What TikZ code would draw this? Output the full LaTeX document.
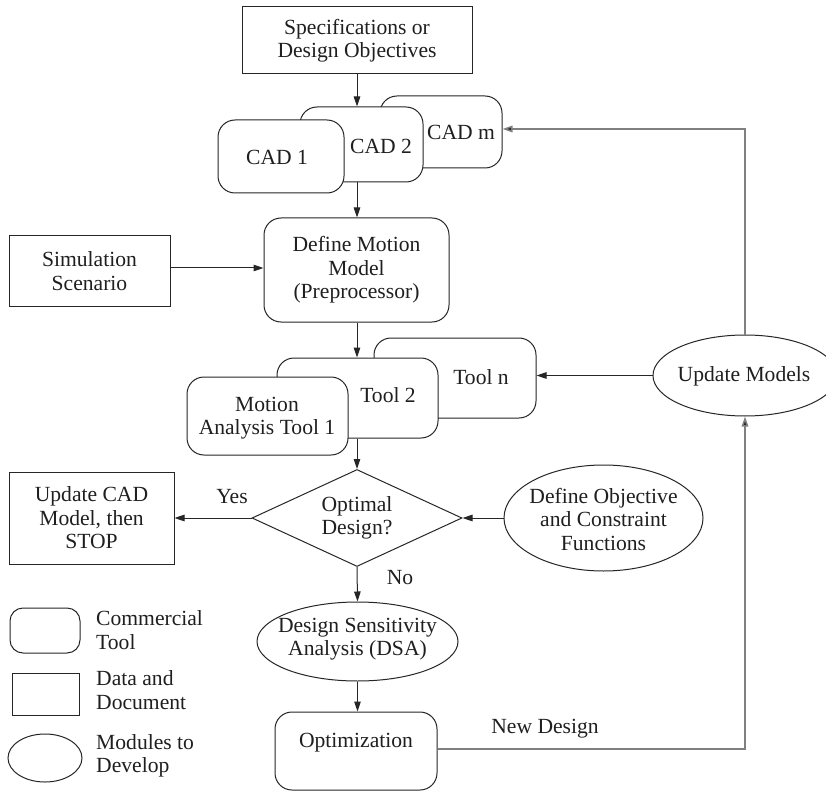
\documentclass[tikz,border=0pt]{standalone}
\usepackage{fontspec}
\setmainfont{Liberation Serif}
\usetikzlibrary{shapes.geometric,arrows.meta}

\begin{document}
\begin{tikzpicture}[x=1pt,y=-1pt,
  font=\fontsize{21.6}{23.5}\selectfont,
  txt/.style={text=black!88, align=center, inner sep=0pt},
  ltxt/.style={text=black!88, align=left, inner sep=0pt, anchor=west},
  tool/.style={draw=black!85, line width=1pt, rounded corners=17pt, fill=white, inner sep=0pt},
  datab/.style={draw=black!85, line width=1pt, fill=white, inner sep=0pt},
  module/.style={draw=black!85, line width=1pt, ellipse, fill=white, inner sep=0pt},
  decision/.style={draw=black!85, line width=1pt, diamond, aspect=2.16, inner sep=0pt},
  arr/.style={draw=black!85, line width=1pt, -{Triangle[length=10pt,width=6.5pt]}},
  fb/.style={draw=black!50, line width=1.5pt},
  fbarr/.style={fb, -{Triangle[length=10pt,width=6.5pt,fill=black!85]}}
]
\useasboundingbox (0,0) rectangle (826,791);

% specifications
\node[datab, minimum width=230pt, minimum height=67pt, txt] (spec) at (357,40.5)
  {Specifications or\\Design Objectives};

% stack of CAD tools (back to front)
\node[tool, minimum width=122pt, minimum height=72pt] (cadm) at (441,132) {};
\node[txt] (cadm-t) at (461,132) {CAD m};
\node[tool, minimum width=123pt, minimum height=75pt] (cad2) at (361.5,144.5) {};
\node[txt] (cad2-t) at (381,146) {CAD 2};
\node[tool, minimum width=126pt, minimum height=73pt] (cad1) at (281,156.5) {};
\node[txt] (cad1-t) at (277,157) {CAD 1};

% motion model
\node[tool, minimum width=185pt, minimum height=104pt, txt] (dmm) at (356.5,270)
  {Define Motion\\Model\\(Preprocessor)};
\node[datab, minimum width=161pt, minimum height=70pt, txt] (sim) at (89.5,271)
  {Simulation\\Scenario};

% stack of motion analysis tools
\node[tool, minimum width=162pt, minimum height=80pt] (tooln) at (455,378) {};
\node[txt] (tooln-t) at (481,377) {Tool n};
\node[tool, minimum width=161pt, minimum height=80pt] (tool2) at (357.5,398) {};
\node[txt] (tool2-t) at (388,395) {Tool 2};
\node[tool, minimum width=161pt, minimum height=78pt] (tool1) at (267.5,416) {};
\node[txt] (tool1-t) at (267,418) {Motion\\Analysis Tool 1};

% decision
\node[decision, minimum width=210pt, minimum height=97pt, txt] (opt-q) at (357,518)
  {Optimal\\Design?};
\node[datab, minimum width=165pt, minimum height=92pt, txt] (updcad) at (91.5,518)
  {Update CAD\\Model, then\\STOP};
\node[module, minimum width=199pt, minimum height=106pt] (objfun) at (603.5,518) {};
\node[txt] (objfun-t) at (603.5,519) {Define Objective\\and Constraint\\Functions};

% sensitivity and optimization
\node[module, minimum width=201pt, minimum height=79pt] (dsa) at (357.5,641.5) {};
\node[txt] (dsa-t) at (357.5,639) {Design Sensitivity\\Analysis (DSA)};
\node[tool, minimum width=162pt, minimum height=78pt] (optim) at (356,751) {};
\node[txt] (optim-t) at (356,743) {Optimization};

% model update
\node[module, minimum width=184pt, minimum height=81pt] (upd) at (745,375.5) {};
\node[txt] (upd-t) at (744,376) {Update Models};

% main flow
\draw[arr] (spec.south) -- (spec.south |- cad2.north);
\draw[arr] (spec.south |- cad2.south) -- (spec.south |- dmm.north);
\draw[arr] (sim.east |- 0,268) -- (dmm.west |- 0,268);
\draw[arr] (spec.south |- dmm.south) -- (spec.south |- tool2.north);
\draw[arr] (spec.south |- tool2.south) -- (opt-q.north);
\draw[arr] (opt-q.west) -- (updcad.east |- opt-q.west);
\draw[arr] (objfun.west) -- (opt-q.east);
\draw[arr] (opt-q.south) -- (dsa.north);
\draw[arr] (dsa.south) -- (dsa.south |- optim.north);
\draw[arr] (upd.west) -- (tooln.east |- upd.west);

% feedback loop
\coordinate (nd-corner) at (745,749);
\coordinate (top-corner) at (745,129);
\draw[fbarr] (optim.east |- nd-corner) -- (nd-corner) -- (upd.south);
\draw[fbarr] (upd.north) -- (top-corner) -- (cadm.east |- top-corner);

% connector labels
\node[txt] (yes-l) at (232,497) {Yes};
\node[txt] (no-l) at (400,578) {No};
\node[txt] (nd-l) at (545,729) {New Design};

% legend
\node[tool, rounded corners=13pt, minimum width=70pt, minimum height=45pt] (leg-tool) at (45,630.5) {};
\node[ltxt] (leg-tool-t) at (96,630) {Commercial\\Tool};
\node[datab, minimum width=67pt, minimum height=42pt] (leg-data) at (45.5,694) {};
\node[ltxt] (leg-data-t) at (96,690) {Data and\\Document};
\node[module, minimum width=74pt, minimum height=48pt] (leg-mod) at (45,758) {};
\node[ltxt] (leg-mod-t) at (96,756) {Modules to\\Develop};
\end{tikzpicture}
\end{document}
